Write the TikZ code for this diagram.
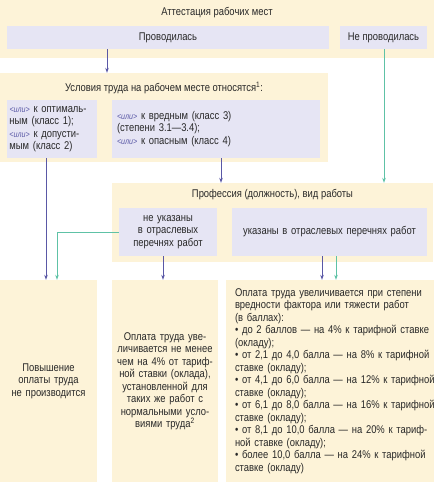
\documentclass[tikz,border=0pt]{standalone}
\usepackage{fontspec}
\setmainfont{Liberation Sans}[FakeStretch=0.84]
\usetikzlibrary{
    positioning,
    arrows.meta
}
\definecolor{boxCream}{RGB}{253, 243, 216}
\definecolor{boxLilac}{RGB}{230, 229, 244}
\definecolor{lineViolet}{RGB}{90, 88, 166}
\definecolor{lineGreen}{RGB}{94, 194, 166}
\definecolor{textDark}{RGB}{40, 40, 40}
\newcommand{\ili}{{\color{lineViolet}\itshape\fontsize{8.5}{10}\selectfont<или>}}

\begin{document}
\begin{tikzpicture}[x=1pt, y=-1pt, >={Stealth[length=5pt, width=3.6pt]},
    txt/.style={text=textDark, font=\fontsize{11.2}{12.5}\selectfont},
    cream/.style={fill=boxCream, inner sep=0pt},
    lilac/.style={txt, fill=boxLilac, inner sep=5pt},
    result/.style={txt, fill=boxCream, inner sep=5pt, minimum height=202pt, align=center},
    violetline/.style={->, lineViolet, line width=0.8pt},
    greenline/.style={->, lineGreen, line width=0.8pt}]
    \useasboundingbox (0,0) rectangle (434,485);

    % Attestation
    \node[cream, minimum width=434pt, minimum height=58pt] (attband) at (217,29) {};
    \node[txt] (att) at (217,13) {Аттестация рабочих мест};
    \node[lilac, minimum width=322pt, minimum height=23pt] (done) at (168,37.5) {Проводилась};
    \node[lilac, minimum width=87pt, minimum height=23pt] (notdone) at (383.5,37.5) {Не проводилась};

    % Working conditions
    \node[cream, minimum width=328pt, minimum height=89pt] (condband) at (164,117.5) {};
    \node[txt] (cond) at (164,88) {Условия труда на рабочем месте относятся\textsuperscript{1}:};
    \node[lilac, text width=85pt, inner xsep=2.5pt, minimum height=58pt, align=left] (opt) at (52,129)
        {\ili{} к оптималь-\\ным (класс 1);\\\ili{} к допусти-\\мым (класс 2)};
    \node[lilac, text width=198pt, minimum height=58pt, align=left] (harm) at (216,129)
        {\ili{} к вредным (класс 3)\\(степени 3.1---3.4);\\\ili{} к опасным (класс 4)};

    % Profession
    \node[cream, minimum width=321pt, minimum height=79pt] (profband) at (272.5,222.5) {};
    \node[txt] (prof) at (272.5,195) {Профессия (должность), вид работы};
    \node[lilac, text width=90pt, inner xsep=4pt, minimum height=48pt, align=center] (unlisted) at (168,232)
        {не указаны\\в отраслевых\\перечнях работ};
    \node[lilac, text width=187pt, inner xsep=4pt, minimum height=48pt, align=center] (listed) at (329.5,232)
        {указаны в отраслевых перечнях работ};

    % Results
    \node[result, text width=87pt] (noraise) at (48.5,381)
        {Повышение\\оплаты труда\\не производится};
    \node[result, text width=100pt, inner xsep=3pt] (minraise) at (165,381)
        {Оплата труда уве-\\личивается не менее\\чем на 4\% от тариф-\\ной ставки (оклада),\\установленной для\\таких же работ с\\нормальными усло-\\виями труда\textsuperscript{2}};
    \node[result, text width=202pt, align=left, inner xsep=3pt] (scaleraise) at (330,381)
        {\hspace*{6pt}\begin{tabular}{@{}l@{}}
         Оплата труда увеличивается при степени\\вредности фактора или тяжести работ\\(в баллах):\\
         • до 2 баллов --- на 4\% к тарифной ставке\\(окладу);\\
         • от 2,1 до 4,0 балла --- на 8\% к тарифной\\ставке (окладу);\\
         • от 4,1 до 6,0 балла --- на 12\% к тарифной\\ставке (окладу);\\
         • от 6,1 до 8,0 балла --- на 16\% к тарифной\\ставке (окладу);\\
         • от 8,1 до 10,0 балла --- на 20\% к тариф-\\ной ставке (окладу);\\
         • более 10,0 балла --- на 24\% к тарифной\\ставке (окладу)
         \end{tabular}};

    % Connectors
    \coordinate (xa) at (107,0);
    \coordinate (xb) at (384,0);
    \coordinate (xc) at (46,0);
    \coordinate (xd) at (221,0);
    \coordinate (xe) at (57,0);
    \coordinate (xf) at (163,0);
    \coordinate (xg) at (322,0);
    \coordinate (xh) at (336,0);
    \draw[violetline] (done.south -| xa) -- (condband.north -| xa);
    \draw[greenline] (notdone.south -| xb) -- (profband.north -| xb);
    \draw[violetline] (opt.south -| xc) -- (noraise.north -| xc);
    \draw[violetline] (harm.south -| xd) -- (profband.north -| xd);
    \draw[greenline] (unlisted.west) -| (noraise.north -| xe);
    \draw[violetline] (unlisted.south -| xf) -- (minraise.north -| xf);
    \draw[violetline] (listed.south -| xg) -- (scaleraise.north -| xg);
    \draw[greenline] (listed.south -| xh) -- (scaleraise.north -| xh);
\end{tikzpicture}
\end{document}
